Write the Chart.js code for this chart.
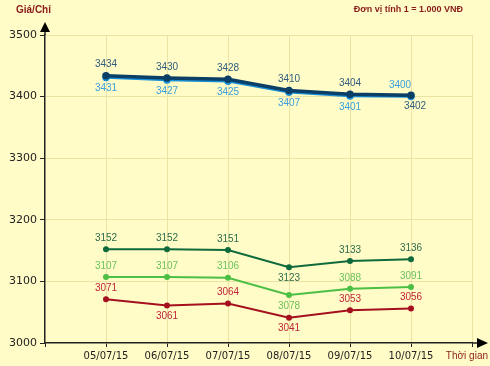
<!DOCTYPE html>
<html>
<head>
<meta charset="utf-8">
<script src="https://cdn.jsdelivr.net/npm/chart.js@4.4.0/dist/chart.umd.min.js"></script>
<style>
  html, body { margin: 0; padding: 0; background: #fffcc8; }
  #wrap { width: 490px; height: 366px; position: relative; }
</style>
</head>
<body>
<div id="wrap"><canvas id="myChart" width="490" height="366"></canvas></div>
<script>
// Dữ liệu
var dates = ['05/07/15', '06/07/15', '07/07/15', '08/07/15', '09/07/15', '10/07/15'];
var yTicks = [3000, 3100, 3200, 3300, 3400, 3500];

var sjcBan = [3434, 3430, 3428, 3410, 3404, 3402];
var sjcMua = [3431, 3427, 3425, 3407, 3401, 3400];
var ntBan = [3152, 3152, 3151, 3123, 3133, 3136];
var ntMua = [3107, 3107, 3106, 3078, 3088, 3091];
var nhan = [3071, 3061, 3064, 3041, 3053, 3056];

function toPoints(arr) {
    return arr.map(function (v, i) { return { x: i + 1, y: v }; });
}

var ctx = document.getElementById('myChart').getContext('2d');

// Plugin vẽ nhãn giá trị, mũi tên và chữ
var extras = {
    id: 'extras',
    afterDatasetsDraw: function (chart) {
        var c = chart.ctx;
        c.save();
        c.font = '10px "Liberation Sans", Arial, sans-serif';
        c.textAlign = 'center';
        c.textBaseline = 'middle';
        chart.data.datasets.forEach(function (ds, di) {
            var meta = chart.getDatasetMeta(di);
            meta.data.forEach(function (pt, i) {
                var pos = ds.labelPos[i];
                var dy = pos === 'a' ? -11 : 11;
                var dx = ds.labelDx ? ds.labelDx[i] : 0;
                c.fillStyle = ds.labelColor;
                c.fillText(String(ds.data[i].y), pt.x + dx, pt.y + dy);
            });
        });

        var a = chart.chartArea;
        c.fillStyle = '#000';
        // mũi tên trục y
        c.beginPath();
        c.moveTo(a.left, 22);
        c.lineTo(a.left - 5, 32);
        c.lineTo(a.left + 5, 32);
        c.closePath();
        c.fill();
        c.strokeStyle = '#222';
        c.lineWidth = 1.5;
        c.beginPath();
        c.moveTo(a.left, 32);
        c.lineTo(a.left, a.top);
        c.stroke();
        // mũi tên trục x
        c.beginPath();
        c.moveTo(a.right, a.bottom);
        c.lineTo(478, a.bottom);
        c.stroke();
        c.beginPath();
        c.moveTo(488, a.bottom);
        c.lineTo(477, a.bottom - 5);
        c.lineTo(477, a.bottom + 5);
        c.closePath();
        c.fill();

        c.fillStyle = '#8b1a1a';
        c.font = 'bold 10px "Liberation Sans", Arial, sans-serif';
        c.textAlign = 'left';
        c.fillText('Giá/Chỉ', 16, 10);
        c.textAlign = 'right';
        c.font = 'bold 9px "Liberation Sans", Arial, sans-serif';
        c.fillText('Đơn vị tính 1 = 1.000 VNĐ', 463, 10);
        c.font = '10px "Liberation Sans", Arial, sans-serif';
        c.fillText('Thời gian', 488, 356);
        c.restore();
    }
};

var chart = new Chart(ctx, {
    type: 'line',
    data: {
        datasets: [
            {
                data: toPoints(sjcBan),
                borderColor: '#0b3f66',
                backgroundColor: '#0b3f66',
                borderWidth: 3.5,
                pointRadius: 2,
                labelColor: '#2f5c7c',
                labelPos: ['a', 'a', 'a', 'a', 'a', 'b'],
                labelDx: [0, 0, 0, 0, 0, 4]
            },
            {
                data: toPoints(sjcMua),
                borderColor: '#1a8fd6',
                backgroundColor: '#1a8fd6',
                borderWidth: 2.5,
                pointRadius: 2.5,
                labelColor: '#3a9fdc',
                labelPos: ['b', 'b', 'b', 'b', 'b', 'a'],
                labelDx: [0, 0, 0, 0, 0, -11]
            },
            {
                data: toPoints(ntBan),
                borderColor: '#0f6a3c',
                backgroundColor: '#0f6a3c',
                borderWidth: 2,
                pointRadius: 2,
                labelColor: '#2e6b4c',
                labelPos: ['a', 'a', 'a', 'b', 'a', 'a']
            },
            {
                data: toPoints(ntMua),
                borderColor: '#4cbf45',
                backgroundColor: '#4cbf45',
                borderWidth: 2,
                pointRadius: 2,
                labelColor: '#6cc25c',
                labelPos: ['a', 'a', 'a', 'b', 'a', 'a']
            },
            {
                data: toPoints(nhan),
                borderColor: '#a5101e',
                backgroundColor: '#a5101e',
                borderWidth: 2,
                pointRadius: 2,
                labelColor: '#c02438',
                labelPos: ['a', 'b', 'a', 'b', 'a', 'a']
            }
        ]
    },
    options: {
        responsive: false,
        animation: false,
        layout: { padding: { top: 35, right: 18, left: 0, bottom: 0 } },
        plugins: { legend: { display: false }, tooltip: { enabled: false } },
        elements: { line: { tension: 0 }, point: { borderWidth: 0 } },
        scales: {
            x: {
                type: 'linear',
                min: 0,
                max: 7,
                afterFit: function (s) { s.height = 23; },
                afterBuildTicks: function (s) {
                    s.ticks = [0, 1, 2, 3, 4, 5, 6, 7].map(function (v) { return { value: v }; });
                },
                ticks: {
                    autoSkip: false,
                    maxRotation: 0,
                    padding: 3,
                    color: '#222',
                    font: { size: 10, family: '"DejaVu Sans", Verdana, sans-serif' },
                    callback: function (v) { return dates[v - 1] || ''; }
                },
                grid: {
                    color: function (c) { return c.index === 0 ? 'rgba(0,0,0,0)' : '#ebe2a6'; },
                    tickColor: '#222',
                    tickLength: 4,
                    drawTicks: true
                },
                border: { color: '#222', width: 1.5 }
            },
            y: {
                min: 3000,
                max: 3500,
                afterFit: function (s) { s.width = 45; },
                afterBuildTicks: function (s) {
                    s.ticks = yTicks.map(function (v) { return { value: v }; });
                },
                ticks: {
                    padding: 3,
                    color: '#222',
                    font: { size: 11, family: '"DejaVu Sans", Verdana, sans-serif' },
                    callback: function (v) { return String(v); }
                },
                grid: {
                    color: function (c) { return c.index === 0 ? 'rgba(0,0,0,0)' : '#ebe2a6'; },
                    tickColor: '#222',
                    tickLength: 5
                },
                border: { color: '#222', width: 1.5 }
            }
        }
    },
    plugins: [extras]
});
</script>
</body>
</html>
